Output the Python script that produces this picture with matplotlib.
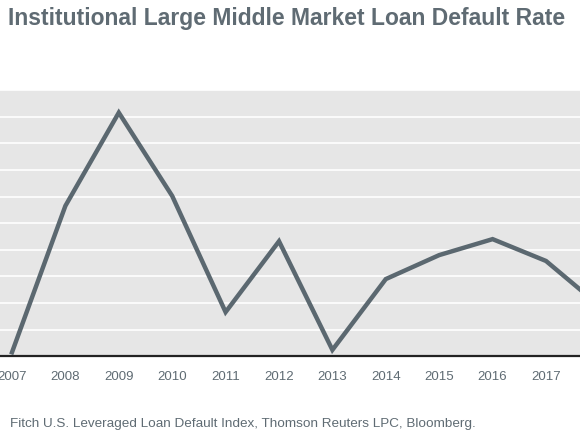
import matplotlib
matplotlib.use("Agg")
import matplotlib.pyplot as plt

years = [2007, 2008, 2009, 2010, 2011, 2012, 2013, 2014, 2015, 2016, 2017, 2018]
default_rate = [0.15, 5.65, 9.15, 6.02, 1.66, 4.32, 0.24, 2.9, 3.8, 4.4, 3.58, 1.9]
tick_years = list(range(2007, 2018))
title = "Institutional Large Middle Market Loan Default Rate"
source = "Fitch U.S. Leveraged Loan Default Index, Thomson Reuters LPC, Bloomberg."

plt.rcParams['font.family'] = ['Liberation Sans', 'DejaVu Sans']

fig = plt.figure(figsize=(5.8, 4.35), dpi=100)
ax = fig.add_axes([0.0, (435 - 357.3) / 435, 1.0, 266.3 / 435])
ax.set_facecolor('#e6e6e6')
ax.plot(years, default_rate, color='#5b6870', lw=3.2, solid_joinstyle='miter', zorder=3)
ax.set_xlim(2007 - 12 / 53.4, 2017 + 34 / 53.4)
ax.set_ylim(0, 10)
ax.set_yticks(range(0, 11))
ax.yaxis.grid(True, color='white', lw=1.2)
ax.set_axisbelow(True)
ax.set_yticklabels([])
ax.tick_params(axis='y', length=0)
ax.set_xticks(tick_years)
ax.set_xticklabels([str(y) for y in tick_years], color='#5f6b73', fontsize=9.5)
ax.tick_params(axis='x', length=0, pad=10)
for s in ['top', 'left', 'right']:
    ax.spines[s].set_visible(False)
ax.spines['bottom'].set_color('#222222')
ax.spines['bottom'].set_linewidth(1.6)

fig.text(8 / 580, 1 - 19 / 435, title, ha='left', va='center', fontsize=16.5,
         fontweight='bold', color='#5f6b73')
fig.text(10 / 580, 1 - 424 / 435, source, ha='left', va='center', fontsize=9.7,
         color='#5f6b73')

fig.savefig('out.png', dpi=100)
